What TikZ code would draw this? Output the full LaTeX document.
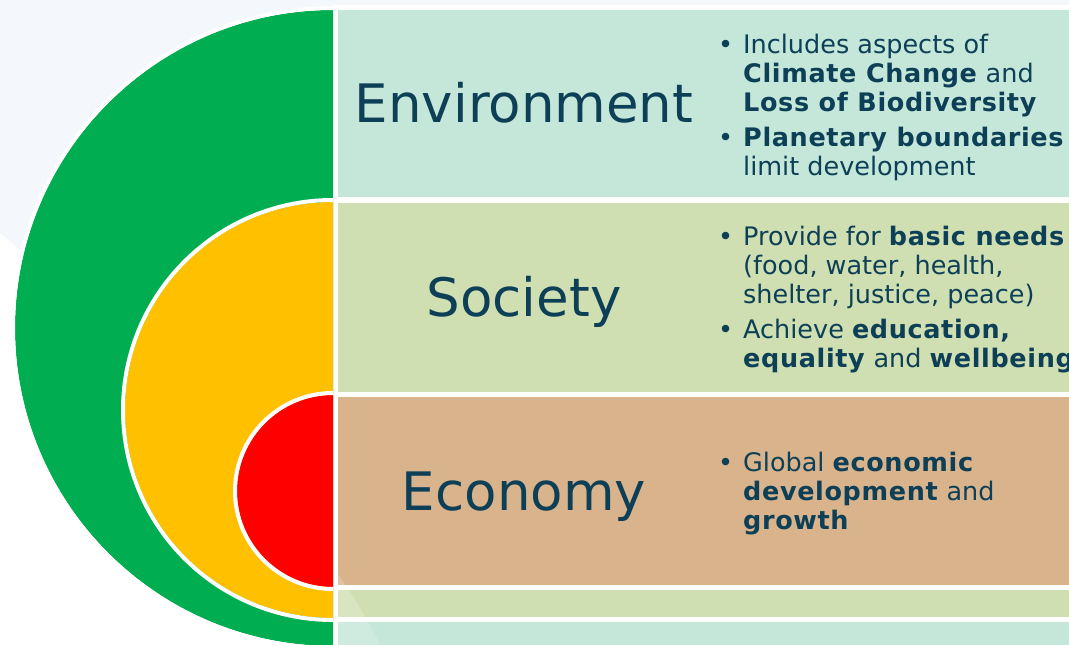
\documentclass[tikz,border=0pt]{standalone}
\usepackage{fontspec}
\setmainfont[BoldFeatures={LetterSpace=2.5}]{DejaVu Sans}
\usepackage{xcolor}
\usepackage{tikz}

\definecolor{ink}{HTML}{0D3F56}
\definecolor{backblue}{HTML}{F4F7FC}
\definecolor{greenring}{HTML}{00AD50}
\definecolor{yellowring}{HTML}{FFC000}
\definecolor{redcore}{HTML}{FF0000}
\definecolor{envfill}{HTML}{C4E7D9}
\definecolor{socfill}{HTML}{CFDFB1}
\definecolor{ecofill}{HTML}{D8B38C}

\newcommand{\bul}{\makebox[25pt][l]{\textbullet}}
\newcommand{\bulgap}{\hspace*{25pt}}

\tikzset{
	band/.style={draw=white, line width=5pt},
	ring/.style={draw=white, line width=4pt},
	title/.style={anchor=base, text=ink, inner sep=0pt, font=\fontsize{53}{60}\selectfont},
	points/.style={anchor=base west, text=ink, inner sep=0pt, font=\fontsize{25.5}{29}\selectfont},
}

\begin{document}
\begin{tikzpicture}[x=1pt, y=-1pt]
		\useasboundingbox (0, 0) rectangle (1069, 645);
		% Background
		\fill[white] (0, 0) rectangle (1069, 645);
		\fill[backblue] (0, 0) -- (1069, 0) -- (1069, 645) -- (380, 645)
			.. controls (330, 540) and (200, 400) .. (0, 233) -- cycle;
		%
		% Rows on the right
		\fill[envfill, band] (335, 7.5) rectangle (1080, 199.5);
		\fill[socfill, band] (335, 200.5) rectangle (1080, 394.5);
		\fill[ecofill, band] (335, 394.5) rectangle (1080, 587.5);
		\fill[socfill, band] (335, 587.5) rectangle (1080, 619.5);
		\fill[envfill, band] (335, 619.5) rectangle (1080, 660);
		% Lighter corner over the rows
		\begin{scope}
			\clip (380, 645) .. controls (330, 540) and (200, 400) .. (0, 233)
				-- (0, 645) -- cycle;
			\fill[white, opacity=0.2] (337.5, 0) rectangle (1069, 645);
		\end{scope}
		%
		% Half discs
		\begin{scope}
			\clip (0, 0) rectangle (333, 645);
			\fill[greenring] (333, 328) circle[radius=318];
			\draw[ring] (333, 328) circle[radius=320];
			\fill[yellowring] (333, 410) circle[radius=208];
			\draw[ring] (333, 410) circle[radius=210];
			\fill[redcore] (333, 491) circle[radius=96];
			\draw[ring] (333, 491) circle[radius=98];
		\end{scope}
		%
		% Titles
		\node[title] (env) at (524, 122) {Environment};
		\node[title] (soc) at (524, 316) {Society};
		\node[title] (eco) at (524, 510) {Economy};
		%
		% Bullet points
		\node[points] (envpts) at (718, 53) {\parbox[t]{400pt}{%
			\bul Includes aspects of\\
			\bulgap\textbf{Climate Change} and\\
			\bulgap\textbf{Loss of Biodiversity}\\[6pt]
			\bul\textbf{Planetary boundaries}\\
			\bulgap limit development}};
		\node[points] (socpts) at (718, 245) {\parbox[t]{400pt}{%
			\bul Provide for \textbf{basic needs}\\
			\bulgap(food, water, health,\\
			\bulgap shelter, justice, peace)\\[6pt]
			\bul Achieve \textbf{education,}\\
			\bulgap\textbf{equality} and \textbf{wellbeing}}};
		\node[points] (ecopts) at (718, 471) {\parbox[t]{400pt}{%
			\bul Global \textbf{economic}\\
			\bulgap\textbf{development} and\\
			\bulgap\textbf{growth}}};
	\end{tikzpicture}
\end{document}
